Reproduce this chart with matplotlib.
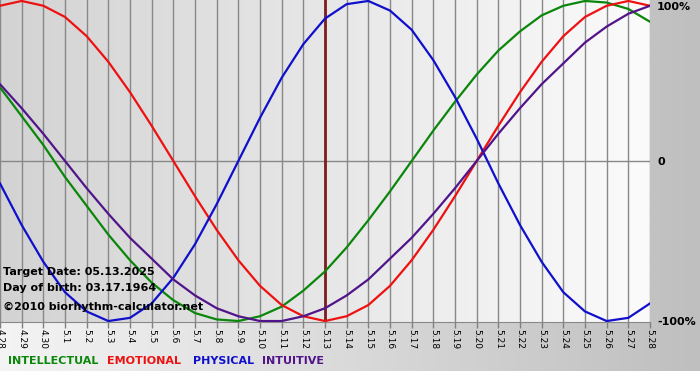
import matplotlib
matplotlib.use('Agg')
import matplotlib.pyplot as plt
from matplotlib.colors import LinearSegmentedColormap
import numpy as np

days = ['4.28', '4.29', '4.30', '5.1', '5.2', '5.3', '5.4', '5.5', '5.6', '5.7',
        '5.8', '5.9', '5.10', '5.11', '5.12', '5.13', '5.14', '5.15', '5.16', '5.17',
        '5.18', '5.19', '5.20', '5.21', '5.22', '5.23', '5.24', '5.25', '5.26', '5.27', '5.28']
intellectual = [0.46, 0.28, 0.10, -0.10, -0.28, -0.46, -0.62, -0.76, -0.87, -0.95, -0.99,
                -1.00, -0.97, -0.91, -0.81, -0.69, -0.54, -0.37, -0.19, 0.00, 0.19, 0.37,
                0.54, 0.69, 0.81, 0.91, 0.97, 1.00, 0.99, 0.95, 0.87]
emotional = [0.97, 1.00, 0.97, 0.90, 0.78, 0.62, 0.43, 0.22, 0.00, -0.22, -0.43, -0.62,
             -0.78, -0.90, -0.97, -1.00, -0.97, -0.90, -0.78, -0.62, -0.43, -0.22, 0.00,
             0.22, 0.43, 0.62, 0.78, 0.90, 0.97, 1.00, 0.97]
physical = [-0.14, -0.40, -0.63, -0.82, -0.94, -1.00, -0.98, -0.89, -0.73, -0.52, -0.27,
            0.00, 0.27, 0.52, 0.73, 0.89, 0.98, 1.00, 0.94, 0.82, 0.63, 0.40, 0.14, -0.14,
            -0.40, -0.63, -0.82, -0.94, -1.00, -0.98, -0.89]
intuitive = [0.48, 0.33, 0.17, 0.00, -0.17, -0.33, -0.48, -0.61, -0.74, -0.84, -0.92,
             -0.97, -1.00, -1.00, -0.97, -0.92, -0.84, -0.74, -0.61, -0.48, -0.33, -0.17,
             0.00, 0.17, 0.33, 0.48, 0.61, 0.74, 0.84, 0.92, 0.97]
target_day = '5.13'
info = ['Target Date: 05.13.2025', 'Day of birth: 03.17.1964', '\u00a92010 biorhythm-calculator.net']
names = ['INTELLECTUAL', 'EMOTIONAL', 'PHYSICAL', 'INTUITIVE']
colors = ['#0a870a', '#ee1111', '#1010cc', '#51148a']

W, H = 700.0, 380.0
fig = plt.figure(figsize=(7, 3.8), dpi=100)
grad = np.linspace(0, 1, 256).reshape(1, -1)

# page background, light on the left, grey on the right
bg = fig.add_axes([0, 9 / H, 1, 371 / H])
bg.imshow(grad, cmap=LinearSegmentedColormap.from_list('bg', ['#f4f4f4', '#bfbfbf']),
          aspect='auto', extent=[0, 1, 0, 1])
bg.axis('off')

ax = fig.add_axes([0, 58 / H, 650 / W, 322 / H])
ax.imshow(grad, cmap=LinearSegmentedColormap.from_list('pl', ['#d3d3d3', '#fbfbfb']),
          aspect='auto', extent=[0, len(days) - 1, -1.006, 1.006], zorder=0)
x = np.arange(len(days))
ax.set_xlim(0, len(days) - 1)
ax.set_ylim(-1.006, 1.006)
ax.set_xticks(x)
ax.set_xticklabels(days, rotation=-90, fontsize=6.5)
ax.set_yticks([])
ax.tick_params(axis='x', length=4, width=1, color='#808080', pad=1)
ax.grid(axis='x', color='#888888', lw=1, zorder=1)
ax.axhline(0, color='#888888', lw=1, zorder=1)
for s in ['top', 'left', 'right']:
    ax.spines[s].set_visible(False)
ax.spines['bottom'].set_color('#888888')

ax.axvline(days.index(target_day), color='#7a1e1e', lw=2, zorder=2)
series = [intellectual, emotional, physical, intuitive]
for vals, c in zip(series, colors):
    ax.plot(x, vals, color=c, lw=1.6, zorder=3, solid_joinstyle='round')

for t, y in zip(info, [272, 288, 307]):
    fig.text(3 / W, 1 - y / H, t, fontsize=8, fontweight='bold', va='center', ha='left')

for t, y in zip(['100%', '0', '-100%'], [7, 162, 322]):
    fig.text(657 / W, 1 - y / H, t, fontsize=8, fontweight='bold', va='center', ha='left')

for t, c, xp in zip(names, colors, [8, 107, 193, 262]):
    fig.text(xp / W, 1 - 361 / H, t, color=c, fontsize=8, fontweight='bold', va='center', ha='left')

fig.savefig('out.png', dpi=100)
